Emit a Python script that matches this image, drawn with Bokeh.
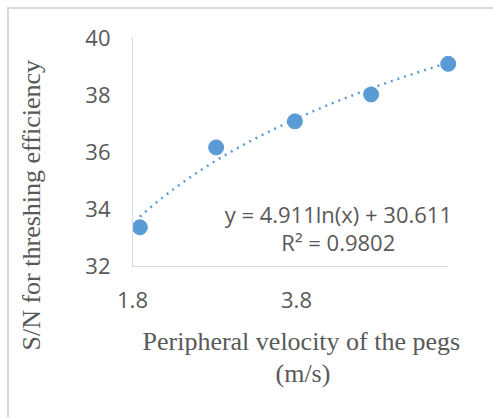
import numpy as np
from bokeh.plotting import figure
from bokeh.models import Range1d, FixedTicker, Label, Title
from bokeh.embed import file_html
from bokeh.resources import INLINE

# Data
velocity = [1.89, 2.82, 3.78, 4.71, 5.65]
sn_ratio = [33.37, 36.16, 37.07, 38.01, 39.08]
x_ticks = [1.8, 3.8]
y_ticks = [32, 34, 36, 38, 40]
x_axis_min, x_axis_max = 1.8, 5.65
y_axis_min, y_axis_max = 32, 40
trend_a = 4.911
trend_b = 30.611
eq_text = "y = 4.911ln(x) + 30.611"
r2_text = "R² = 0.9802"
x_title_1 = "Peripheral velocity of the pegs"
x_title_2 = "(m/s)"
y_title = "S/N for threshing efficiency"

BLUE = "#5b9bd5"
GREY_TXT = "#595959"
GREY_LINE = "#d9d9d9"

p = figure(
    frame_width=325, frame_height=230,
    min_border_left=123, min_border_top=28,
    min_border_right=36, min_border_bottom=150,
    x_range=Range1d(x_axis_min, 5.7634), y_range=Range1d(31.965, y_axis_max),
    output_backend="svg", toolbar_location=None,
)
p.styles = {"margin-left": "7px", "margin-top": "7px",
            "border-left": "2px solid #d9d9d9", "border-top": "2px solid #d9d9d9"}
p.outline_line_color = None
p.grid.visible = False
p.background_fill_color = "white"
p.border_fill_color = "white"

for ax in (p.xaxis[0], p.yaxis[0]):
    ax.axis_line_color = GREY_LINE
    ax.axis_line_width = 1.2
    ax.major_tick_line_color = None
    ax.minor_tick_line_color = None
    ax.major_tick_out = 0
    ax.major_tick_in = 0
    ax.major_label_text_font = "Open Sans"
    ax.major_label_text_font_size = "22px"
    ax.major_label_text_color = GREY_TXT

p.xaxis.axis_line_color = None
p.xaxis.ticker = FixedTicker(ticks=x_ticks)
p.yaxis.ticker = FixedTicker(ticks=y_ticks)
p.xaxis.major_label_overrides = {1.8: "1.8", 3.8: "3.8"}
p.yaxis.major_label_standoff = 22
p.xaxis.major_label_standoff = 24
# blank spacer label so the left title sits further out
p.yaxis.axis_label = " "
p.yaxis.axis_label_text_font_size = "2px"
p.yaxis.axis_label_standoff = 30

# bottom axis line, ending at the axis maximum
p.line([x_axis_min, x_axis_max], [y_axis_min, y_axis_min], line_color=GREY_LINE, line_width=1.2)

# Trendline from the chart's stated equation
tx = np.linspace(velocity[0], velocity[-1], 200)
ty = trend_a * np.log(tx) + trend_b
p.line(tx, ty, line_color=BLUE, line_width=2.5, line_dash="2 5")

p.scatter(velocity, sn_ratio, size=15, fill_color=BLUE, line_color=BLUE)

def lab(x, y, text, size):
    p.add_layout(Label(x=x, y=y, text=text, text_font="Open Sans", text_font_size=size,
                       text_color=GREY_TXT, text_align="center", text_baseline="middle"))

lab(4.31, 33.85, eq_text, "22px")
lab(4.31, 32.84, r2_text, "22px")

def title(text, side, offset, standoff, valign="bottom"):
    t = Title(text=text, text_font="Liberation Serif", text_font_size="26px",
              text_font_style="normal", text_color=GREY_TXT, align="left",
              vertical_align=valign, offset=offset, standoff=standoff)
    p.add_layout(t, side)

title(x_title_1, "below", 10, 28)
title(x_title_2, "below", 143, -25)
title(y_title, "left", -83, 4)

open("out.html", "w").write(file_html(p, INLINE))
